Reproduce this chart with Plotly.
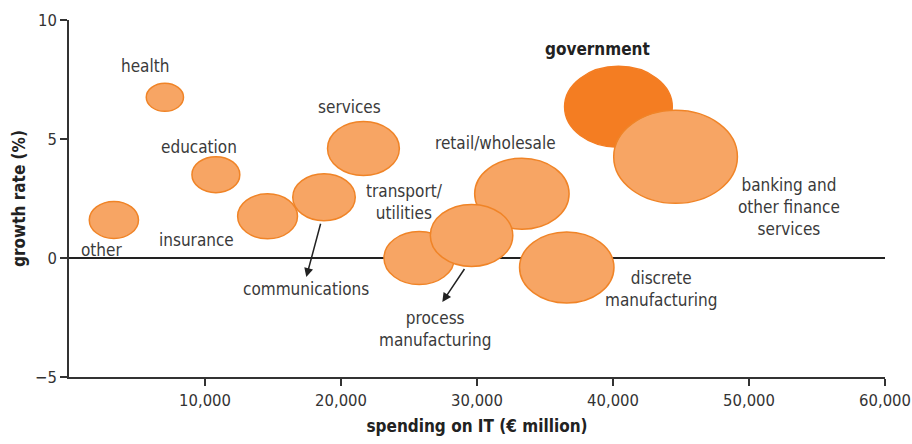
import plotly.graph_objects as go

# IT spending (EUR million) vs growth rate (%) per sector
sectors = ["other", "health", "education", "insurance", "communications", "services",
           "transport/utilities", "process manufacturing", "retail/wholesale",
           "discrete manufacturing", "banking and other finance services", "government"]
spending = [3300, 7050, 10800, 14600, 18750, 21650, 25750, 29600, 33300, 36600, 44600, 40400]
growth = [1.6, 6.75, 3.5, 1.75, 2.55, 4.6, 0.0, 0.95, 2.7, -0.4, 4.25, 6.35]
bubble_size = [37, 28, 36, 45, 47, 54, 53, 62, 71, 71, 93, 81]

# label text and anchor points (data coords)
label_text = ["other", "health", "education", "insurance", "communications", "services",
              "transport/<br>utilities", "process<br>manufacturing", "retail/wholesale",
              "discrete<br>manufacturing", "banking and<br>other finance<br>services", "government"]
label_x = [2400, 5600, 9550, 9350, 17450, 20650, 24700, 26900, 31350, 43500, 52950, 38850]
label_y = [0.35, 8.05, 4.65, 0.75, -1.3, 6.35, 2.35, -3.0, 4.85, -1.3, 2.15, 8.8]

# arrows: (tail_x, tail_y, head_x, head_y)
arrows = [(18530, 1.5, 17450, -0.8), (29150, -0.4, 27450, -1.85)]

FONT = "DejaVu Sans Condensed, DejaVu Sans, sans-serif"
LIGHT = "#F7A564"
EDGE = "#F08427"
DARK = "#F47D22"

W, H = 912, 444
M = dict(l=69, r=27, t=20, b=67)
X_RANGE = [0, 60000]
Y_RANGE = [-5, 10]
px_x = (W - M["l"] - M["r"]) / (X_RANGE[1] - X_RANGE[0])
px_y = (H - M["t"] - M["b"]) / (Y_RANGE[1] - Y_RANGE[0])

fig = go.Figure()
fig.add_trace(go.Scatter(x=spending, y=growth, mode="markers", text=sectors,
                         marker=dict(size=1, opacity=0), hoverinfo="text", showlegend=False))

# ellipses (the original bubbles are stretched horizontally)
order = [11, 10, 0, 1, 2, 3, 4, 5, 6, 8, 7, 9]
for i in order:
    rx = bubble_size[i] * 1.33 / 2 / px_x
    ry = bubble_size[i] / 2 / px_y
    gov = sectors[i] == "government"
    fig.add_shape(type="circle", xref="x", yref="y",
                  x0=spending[i] - rx, x1=spending[i] + rx,
                  y0=growth[i] - ry, y1=growth[i] + ry,
                  fillcolor=DARK if gov else LIGHT,
                  line=dict(color=DARK if gov else EDGE, width=1.5))

for t, x, y in zip(label_text, label_x, label_y):
    bold = t == "government"
    fig.add_annotation(x=x, y=y, text=t, showarrow=False, xanchor="center", yanchor="middle",
                       font=dict(family=FONT, size=17, color="#222" if bold else "#3a3a3a",
                                 weight="bold" if bold else "normal"))

for tx, ty, hx, hy in arrows:
    fig.add_annotation(x=hx, y=hy, ax=tx, ay=ty, axref="x", ayref="y", xref="x", yref="y",
                       text="", showarrow=True, arrowhead=2, arrowsize=1.2, arrowwidth=1.5,
                       arrowcolor="#222", standoff=0, startstandoff=0)

fig.update_xaxes(range=X_RANGE, tickvals=[10000, 20000, 30000, 40000, 50000, 60000],
                 tickformat=",d", showgrid=False, zeroline=False, automargin=False,
                 ticklabeloverflow="allow",
                 showline=True, linecolor="#333", linewidth=1.5,
                 ticks="outside", ticklen=7, tickcolor="#333", tickwidth=1.5,
                 tickfont=dict(family=FONT, size=16.5, color="#333"),
                 title=dict(text="spending on IT (€ million)", standoff=12,
                            font=dict(family=FONT, size=17, color="#222", weight="bold")))
fig.update_yaxes(range=Y_RANGE, tickvals=[-5, 0, 5, 10], showgrid=False, automargin=False,
                 zeroline=True, zerolinecolor="#222", zerolinewidth=1.5,
                 showline=True, linecolor="#333", linewidth=1.5,
                 ticks="outside", ticklen=7, tickcolor="#333", tickwidth=1.5,
                 tickfont=dict(family=FONT, size=16.5, color="#333"),
                 title=dict(text="growth rate (%)", standoff=5,
                            font=dict(family=FONT, size=17, color="#222", weight="bold")))
fig.update_layout(width=W, height=H, margin=M, paper_bgcolor="white", plot_bgcolor="white",
                  showlegend=False)
# drop the default 8px page margin so the figure fills the window exactly
fig.write_html("out.html", config={"displayModeBar": False},
               post_script="document.body.style.margin='0';")
